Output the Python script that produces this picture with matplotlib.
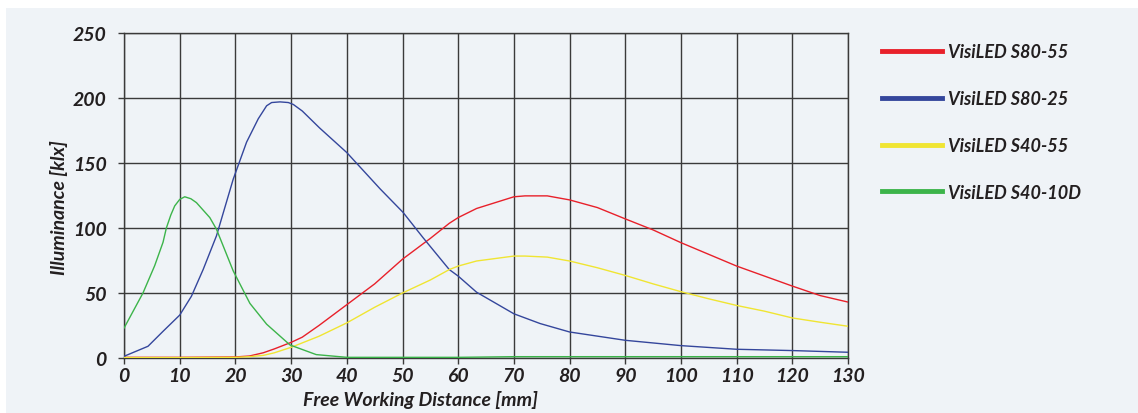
import matplotlib.pyplot as plt
from matplotlib.patches import Rectangle

# distances in mm, illuminance in klx
x_s80_55 = [0, 10, 20, 22.5, 25, 27, 30, 32, 35, 40, 45, 50, 55, 58.4, 60, 63.3, 70, 72, 76, 80, 85, 90, 95, 100, 105, 110, 115, 120, 125, 130]
y_s80_55 = [0.5, 0.5, 0.8, 1.5, 4, 7, 12, 16, 25, 41, 57, 76, 92, 103.6, 108, 115, 124, 124.7, 124.7, 121.6, 115.7, 107, 98.5, 88.7, 79.7, 70.7, 63, 55.3, 48, 43]

x_s80_25 = [0, 4.3, 7, 10, 12.1, 14.2, 16.6, 19.6, 22, 24.1, 25.6, 26.5, 28, 29.5, 30.4, 32, 35.1, 40, 46, 50.1, 53.7, 58.4, 60, 63.3, 70, 74.7, 80, 90, 100, 110, 120, 130]
y_s80_25 = [1.3, 9, 20.5, 33, 47.5, 68, 94, 137.5, 166, 184, 194, 196.5, 197, 196.5, 195, 190, 177, 158, 130, 112, 92.5, 68, 63, 50.6, 34, 26.5, 20, 13.6, 9.5, 6.7, 5.7, 4.4]

x_s40_55 = [0, 10, 20, 22.5, 25, 27, 30, 35, 40, 45, 50, 55, 58.4, 60, 63.3, 70, 72, 76, 80, 85, 90, 95, 100, 105, 110, 115, 120, 125, 130]
y_s40_55 = [0.3, 0.3, 0.5, 1, 2, 4, 8.2, 16.7, 27, 39, 50, 60, 68, 70.7, 74.6, 78.4, 78.4, 77.6, 74.6, 69.4, 63.5, 57, 51, 45.5, 40.4, 36, 30.8, 27.5, 24.4]

x_s40_10d = [0, 3.4, 5.5, 7, 7.6, 8.4, 9.1, 10, 10.9, 12, 13, 15.4, 16.6, 19.6, 22.6, 25.6, 29.8, 34.5, 40, 60, 70, 90, 130]
y_s40_10d = [23, 50, 71, 89, 100, 110, 117, 122, 124, 122.5, 119.5, 108, 99, 67, 42, 26, 10, 2.6, 0.5, 0.5, 1, 1, 1]

series = [
    ("VisiLED S80-55", x_s80_55, y_s80_55, "#e8202a"),
    ("VisiLED S80-25", x_s80_25, y_s80_25, "#34469c"),
    ("VisiLED S40-55", x_s40_55, y_s40_55, "#f0e532"),
    ("VisiLED S40-10D", x_s40_10d, y_s40_10d, "#3cb44a"),
]

xticks = list(range(0, 131, 10))
yticks = list(range(0, 251, 50))

txt = "#231f20"
plt.rcParams['font.family'] = ['Lato', 'DejaVu Sans']

fig = plt.figure(figsize=(11.38, 4.14), dpi=100)
fig.patch.set_facecolor("white")
fig.patches.append(Rectangle((6 / 1138, 0), 1, 1 - 9 / 414, transform=fig.transFigure,
                             facecolor="#eff3f7", edgecolor="none", zorder=-10))

ax = fig.add_axes([0.1090, 0.1329, 0.6362, 0.7850])
ax.set_facecolor("#eff3f7")

lines = []
for name, xs, ys, col in series:
    ln, = ax.plot(xs, ys, color=col, lw=1.0, label=name, zorder=3)
    lines.append(ln)

ax.set_xlim(0, 130)
ax.set_ylim(0, 250)
ax.set_xticks(xticks)
ax.set_yticks(yticks)
ax.grid(True, color="#3a3a3a", lw=1.0)
ax.set_axisbelow(True)
for sp in ax.spines.values():
    sp.set_color("#3a3a3a")
    sp.set_linewidth(1.0)
ax.tick_params(direction="out", length=4.5, width=1.0, color="#3a3a3a", labelcolor=txt)
ax.tick_params(axis="y", pad=8)
ax.tick_params(axis="x", pad=2)
for lab in ax.get_xticklabels() + ax.get_yticklabels():
    lab.set_fontsize(14)
    lab.set_fontweight("bold")
    lab.set_fontstyle("italic")

ax.set_xlabel("Free Working Distance [mm]", fontsize=14, fontweight="bold", style="italic", color=txt)
ax.xaxis.set_label_coords(0.41, -0.098)
ax.set_ylabel("Illuminance [klx]", fontsize=14, fontweight="bold", style="italic", color=txt)
ax.yaxis.set_label_coords(-0.078, 0.466)

leg = fig.legend(handles=lines, loc="upper left", bbox_to_anchor=(866 / 1138, 1 - 28 / 414),
                 frameon=False, handlelength=3.3, handletextpad=0.35, labelspacing=1.65,
                 prop={"size": 13, "weight": "bold", "style": "italic"})
for h in leg.get_lines():
    h.set_linewidth(3.5)
for t in leg.get_texts():
    t.set_color(txt)

fig.savefig("out.png", dpi=100, facecolor=fig.get_facecolor())
